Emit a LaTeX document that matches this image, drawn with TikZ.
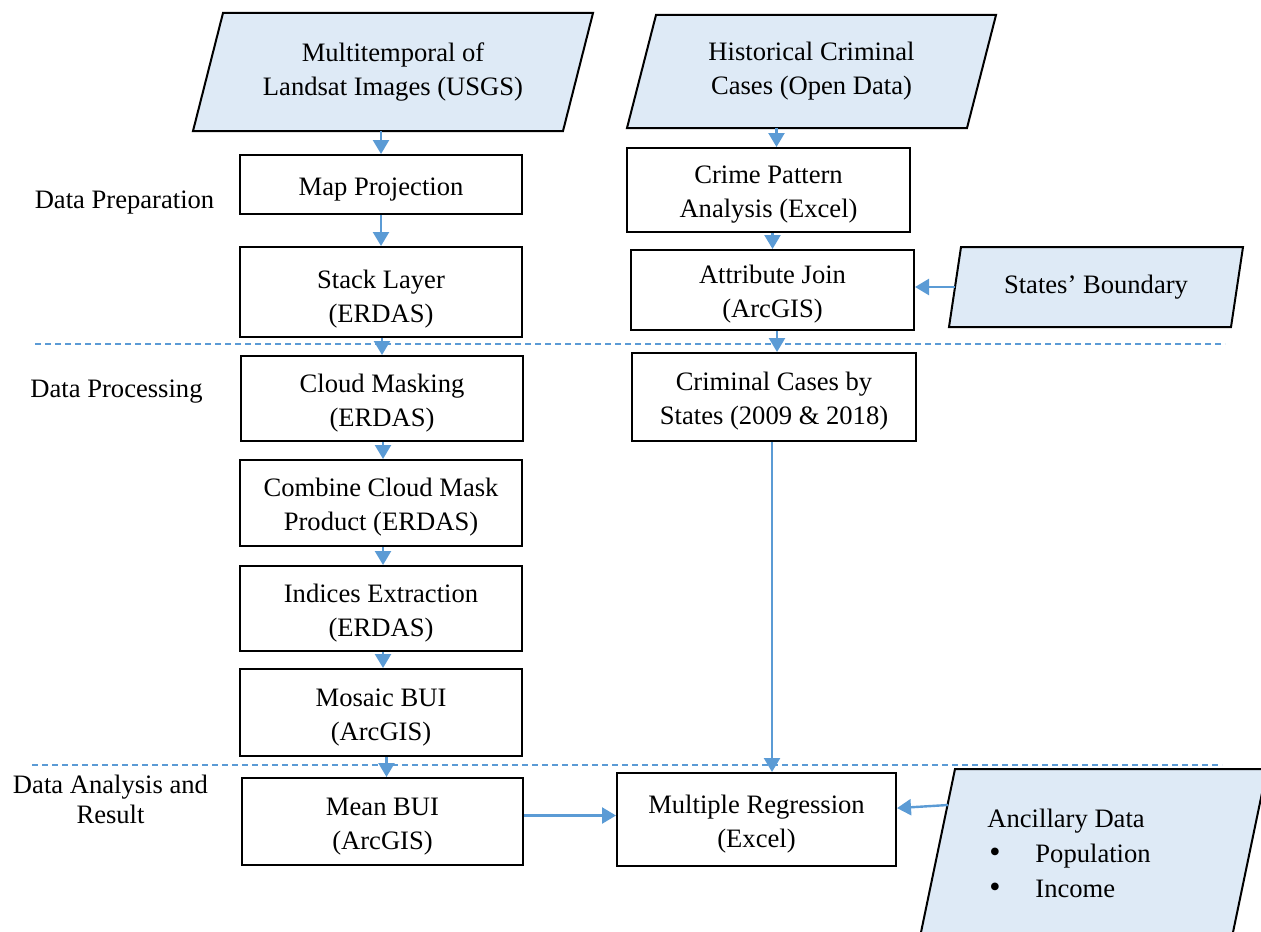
\documentclass[tikz,border=0pt]{standalone}
\usepackage{fontspec}
\setmainfont{Liberation Serif}
\usepackage{tikz}
\usetikzlibrary{arrows.meta,positioning,calc}
\definecolor{linkblue}{HTML}{5B9BD5}
\definecolor{databg}{HTML}{DEEAF6}
\pgfdeclarelayer{back}
\pgfsetlayers{back,main}

\begin{document}
\begin{tikzpicture}[x=0.5pt,y=-0.5pt,
                    font=\fontsize{13.3}{17}\selectfont,
                    task/.style={draw,line width=1pt,align=center,inner sep=0pt,
                                 text height=30.5pt,text depth=3pt},
                    task1/.style={task,text height=13.5pt},
                    data/.style={align=center,inner sep=0pt,outer sep=0pt},
                    datashape/.style={draw,line width=1pt,fill=databg,line join=miter},
                    flow/.style={-{Triangle[length=7pt,width=8pt]},draw=linkblue,line width=1.2pt},
                    phase/.style={draw=linkblue,line width=0.8pt,dash pattern=on 3pt off 2pt}]
  \useasboundingbox (0,0) rectangle (1261,931);

  % inputs (parallelograms drawn behind)
  \node[data,minimum width=200pt,minimum height=59pt]     (usgs)  at (393,72)     {Multitemporal of\\Landsat Images (USGS)};
  \node[data,minimum width=184.5pt,minimum height=56.5pt] (open)  at (811.5,71.5) {Historical Criminal\\Cases (Open Data)};
  \node[data,minimum width=147pt,minimum height=40pt]     (bound) at (1096,287)   {States’ Boundary};
  \node[data,minimum width=173.5pt,minimum height=84pt]   (anc)   at (1093.5,853) {};
  \node[anchor=west,align=left,inner sep=0pt,font=\fontsize{13.3}{17.5}\selectfont] (anctext) at (987,853)
        {Ancillary Data\\\makebox[24pt][l]{\hspace{1pt}{\fontsize{16}{16}\selectfont\textbullet}}Population\\
         \makebox[24pt][l]{\hspace{1pt}{\fontsize{16}{16}\selectfont\textbullet}}Income};
  \begin{pgfonlayer}{back}
    \draw[datashape] (usgs.south west) -- ([xshift=15pt]usgs.north west) -- (usgs.north east)
                  -- ([xshift=-15pt]usgs.south east) -- cycle;
    \draw[datashape] (open.south west) -- ([xshift=14.5pt]open.north west) -- (open.north east)
                  -- ([xshift=-14.5pt]open.south east) -- cycle;
    \draw[datashape] (bound.south west) -- ([xshift=6pt]bound.north west) -- (bound.north east)
                  -- ([xshift=-6pt]bound.south east) -- cycle;
    \draw[datashape] (anc.south west) -- ([xshift=17.5pt]anc.north west) -- (anc.north east)
                  -- ([xshift=-17.5pt]anc.south east) -- cycle;
  \end{pgfonlayer}

  % left column
  \node[task1,minimum width=141pt,minimum height=29.5pt] (map)    at (381,184.5) {Map Projection};
  \node[task,text height=33.5pt,minimum width=141pt,minimum height=45pt] (stack) at (381,292) {Stack Layer\\(ERDAS)};
  \node[task,minimum width=141pt,minimum height=42.5pt] (cloud)   at (382,398.5) {Cloud Masking\\(ERDAS)};
  \node[task,minimum width=141pt,minimum height=43pt]   (combine) at (381,503)   {Combine Cloud Mask\\Product (ERDAS)};
  \node[task,minimum width=141pt,minimum height=42.5pt] (indices) at (381,608.5) {Indices Extraction\\(ERDAS)};
  \node[task,minimum width=141pt,minimum height=43.5pt] (mosaic)  at (381,712.5) {Mosaic BUI\\(ArcGIS)};
  \node[task,minimum width=140.5pt,minimum height=43.5pt] (mean)  at (382.5,821.5) {Mean BUI\\(ArcGIS)};

  % right column
  \node[task,minimum width=141.5pt,minimum height=42pt] (crime) at (768.5,190) {Crime Pattern\\Analysis (Excel)};
  \node[task,minimum width=141.5pt,minimum height=40pt] (attr)  at (772.5,290) {Attribute Join\\(ArcGIS)};
  \node[task,minimum width=142pt,minimum height=44pt]   (crim)  at (774,397)   {Criminal Cases by\\States (2009 \& 2018)};
  \node[task,minimum width=139.5pt,minimum height=46.5pt] (mreg) at (756.5,819.5) {Multiple Regression\\(Excel)};

  % phases
  \node (prep) at (124.5,203) {Data Preparation};
  \node (prcs) at (116.5,392) {Data Processing};
  \node[align=center,font=\fontsize{13.3}{15}\selectfont] (anls) at (110.5,799) {Data Analysis and\\Result};
  \draw[phase] (35,344) -- (1225,344);
  \draw[phase] (32,765) -- (1222,765);

  % flows
  \draw[flow] (map.north |- usgs.south) -- (map.north);
  \draw[flow] (stack.north |- map.south) -- (stack.north);
  \draw[flow] (cloud.north |- stack.south) -- (cloud.north);
  \draw[flow] ([xshift=1pt]combine.north |- cloud.south) -- ([xshift=1pt]combine.north);
  \draw[flow] ([xshift=1pt]indices.north |- combine.south) -- ([xshift=1pt]indices.north);
  \draw[flow] ([xshift=1pt]mosaic.north |- indices.south) -- ([xshift=1pt]mosaic.north);
  \draw[flow] ([xshift=2pt]mean.north |- mosaic.south) -- ([xshift=2pt]mean.north);
  \draw[flow] ([xshift=4pt]crime.north |- open.south) -- ([xshift=4pt]crime.north);
  \draw[flow] (attr.north |- crime.south) -- (attr.north);
  \draw[flow] ([xshift=3pt]bound.west) -- (bound.west -| attr.east);
  \draw[flow] ([xshift=1.5pt]crim.north |- attr.south) -- ([xshift=1.5pt]crim.north);
  \draw[flow] ([xshift=-1pt]crim.south) -- ([xshift=-1pt]crim.south |- mreg.north);
  \draw[flow] ([yshift=3pt]mean.east) -- ([yshift=3pt]mean.east -| mreg.west);
  \draw[flow] ($(anc.north west)+(28,36)$) -- ($(mreg.north east)!0.38!(mreg.south east)$);
\end{tikzpicture}
\end{document}
